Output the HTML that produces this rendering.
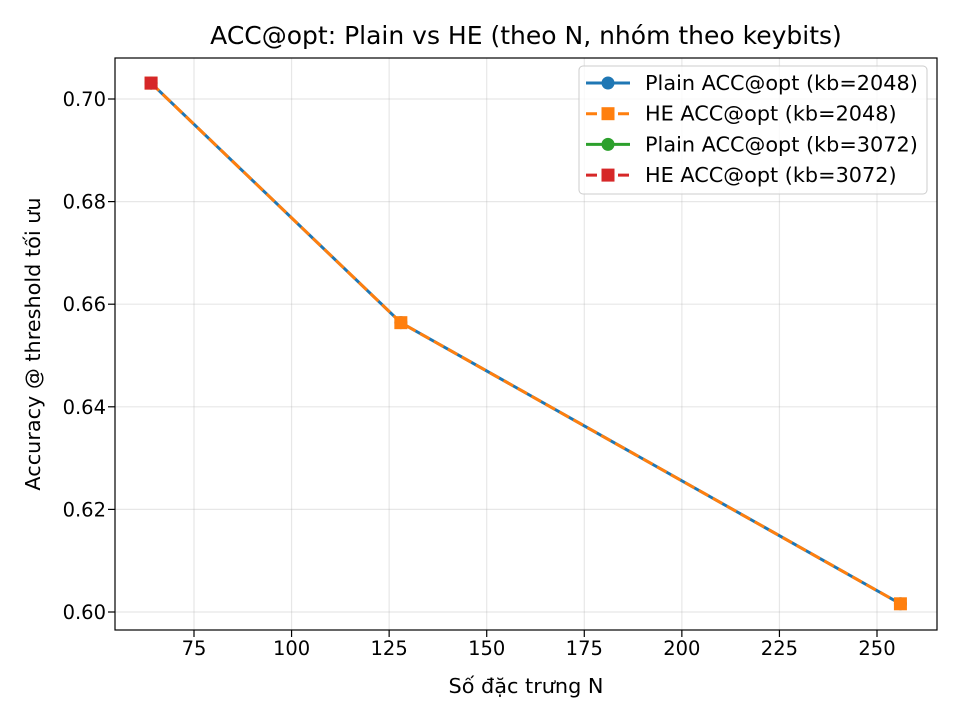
<!DOCTYPE html>
<html><head><meta charset="utf-8"><style>
body{margin:0;background:#fff;}
svg{font-family:"DejaVu Sans","Liberation Sans",sans-serif;}
</style></head><body>
<svg id="chart" width="960" height="720" xmlns="http://www.w3.org/2000/svg">
<rect width="960" height="720" fill="#fff"/>
<g id="grid"></g>
<g id="ticks"></g>
<g id="series"></g>
<rect x="115" y="58" width="822" height="572" fill="none" stroke="#000" stroke-width="1.2"/>
<text x="526" y="44" font-size="25" text-anchor="middle">ACC@opt: Plain vs HE (theo N, nhóm theo keybits)</text>
<text x="526" y="693" font-size="20.8" text-anchor="middle">Số đặc trưng N</text>
<text transform="translate(40,344) rotate(-90)" font-size="20.8" text-anchor="middle">Accuracy @ threshold tối ưu</text>
<g id="legend">
<rect x="579" y="66" width="348" height="128" rx="4" fill="#fff" fill-opacity="0.8" stroke="#ccc"/>
</g>
</svg>
<script>
const xTicks=[75,100,125,150,175,200,225,250];
const yTicks=[0.60,0.62,0.64,0.66,0.68,0.70];
const yTickLabels=["0.60","0.62","0.64","0.66","0.68","0.70"];
const nA=[64,128,256];
const plainA=[0.7031,0.6564,0.6016];
const heA=[0.7031,0.6564,0.6016];
const nB=[64];
const plainB=[0.7031];
const heB=[0.7031];
const seriesNames=["Plain ACC@opt (kb=2048)","HE ACC@opt (kb=2048)","Plain ACC@opt (kb=3072)","HE ACC@opt (kb=3072)"];
const NS="http://www.w3.org/2000/svg";
function X(v){return 194+(v-75)*(877-194)/175;}
function Y(v){return 612-(v-0.60)*(612-99)/0.10;}
function mk(tag,attrs,parent){const e=document.createElementNS(NS,tag);for(const k in attrs)e.setAttribute(k,attrs[k]);parent.appendChild(e);return e;}
const grid=document.getElementById('grid'),ticks=document.getElementById('ticks'),ser=document.getElementById('series'),leg=document.getElementById('legend');
xTicks.forEach(t=>{const x=X(t);
 const g=mk('line',{x1:x,x2:x,y1:58,y2:630,stroke:'#b0b0b0','stroke-opacity':0.3,'stroke-width':1.2},grid);
 
 
 mk('line',{x1:x,x2:x,y1:630,y2:637,stroke:'#000','stroke-width':1.2},ticks);
 const l=mk('text',{x:x,y:655,'font-size':19.5,'text-anchor':'middle'},ticks);l.textContent=t;
 
 
});
yTicks.forEach((t,i)=>{const y=Y(t);
 const g=mk('line',{x1:115,x2:937,y1:y,y2:y,stroke:'#b0b0b0','stroke-opacity':0.3,'stroke-width':1.2},grid);
 
 
 mk('line',{x1:108,x2:115,y1:y,y2:y,stroke:'#000','stroke-width':1.2},ticks);
 const l=mk('text',{x:106,y:y+7,'font-size':19.5,'text-anchor':'end'},ticks);l.textContent=yTickLabels[i];
 
 
});
function draw(xs,ys,color,dash,square,name){
 const g=mk('g',{},ser);
 
 
 const pts=xs.map((x,i)=>X(x)+','+Y(ys[i])).join(' ');
 const a={points:pts,fill:'none',stroke:color,'stroke-width':3};if(dash)a['stroke-dasharray']='11,5';
 mk('polyline',a,g);
 xs.forEach((x,i)=>{const cx=X(x),cy=Y(ys[i]);
  if(square)mk('rect',{x:cx-6.5,y:cy-6.5,width:13,height:13,fill:color},g);
  else mk('circle',{cx:cx,cy:cy,r:6.5,fill:color},g);});
}
draw(nA,plainA,'#1f77b4',false,false,'series-plain-2048');
draw(nA,heA,'#ff7f0e',true,true,'series-he-2048');
draw(nB,plainB,'#2ca02c',false,false,'series-plain-3072');
draw(nB,heB,'#d62728',true,true,'series-he-3072');
const lc=['#1f77b4','#ff7f0e','#2ca02c','#d62728'],ld=[false,true,false,true];
seriesNames.forEach((n,i)=>{const y=83+i*30.7;
 const g=mk('g',{},leg);
 
 
 const a={x1:586,x2:630,y1:y,y2:y,stroke:lc[i],'stroke-width':3};if(ld[i])a['stroke-dasharray']='11,5';
 mk('line',a,g);
 if(ld[i])mk('rect',{x:601.5,y:y-6.5,width:13,height:13,fill:lc[i]},g);else mk('circle',{cx:608,cy:y,r:6.5,fill:lc[i]},g);
 const t=mk('text',{x:645,y:y+7,'font-size':20.8},g);t.textContent=n;
});
</script>
</body></html>
